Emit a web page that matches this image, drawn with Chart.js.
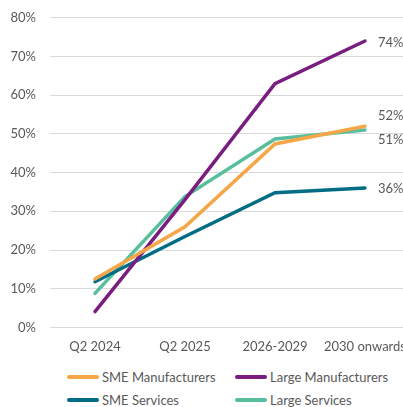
<!DOCTYPE html>
<html>
<head>
<meta charset="utf-8">
<script src="https://cdn.jsdelivr.net/npm/chart.js@4.4.0/dist/chart.umd.min.js"></script>
<style>
  html, body { margin: 0; padding: 0; background: #fff; overflow: hidden; }
  #wrap { position: relative; width: 410px; height: 363px; margin-top: -4px; }
  #legend {
    position: absolute; left: 67px; top: 369px;
    display: grid; grid-template-columns: 168px 168px; row-gap: 7px;
    font-family: Lato, sans-serif; font-size: 13px; color: #595959;
  }
  .item { display: flex; align-items: center; height: 16px; white-space: nowrap; }
  .swatch { width: 32px; height: 4px; border-radius: 2px; margin-right: 3px; }
</style>
</head>
<body>
<div id="wrap"><canvas id="chart"></canvas></div>
<div id="legend"></div>
<script>
// 데이터
const categories = ['Q2 2024', 'Q2 2025', '2026-2029', '2030 onwards'];
const smeManufacturers = [12.5, 26, 47.4, 52];
const largeManufacturers = [4.1, 33, 63, 74];
const smeServices = [11.8, 23.5, 34.8, 36];
const largeServices = [8.8, 33.8, 48.7, 51];
const endLabels = ['52%', '74%', '36%', '51%'];
const yTicks = [0, 10, 20, 30, 40, 50, 60, 70, 80];

const seriesNames = ['SME Manufacturers', 'Large Manufacturers', 'SME Services', 'Large Services'];
const seriesData = [smeManufacturers, largeManufacturers, smeServices, largeServices];
const colors = ['#F5A647', '#7A1D80', '#006D85', '#58BF9E'];
// 끝 라벨 위치 조정 (y 방향)
const labelShift = [-10, 2, 1, 10];

const endLabelPlugin = {
  id: 'endLabels',
  afterDatasetsDraw(chart) {
    const c = chart.ctx;
    c.save();
    c.font = '13px Lato, sans-serif';
    c.fillStyle = '#595959';
    c.textBaseline = 'middle';
    chart.data.datasets.forEach((ds, i) => {
      const meta = chart.getDatasetMeta(i);
      const pt = meta.data[meta.data.length - 1];
      c.fillText(endLabels[i], pt.x + 13, pt.y + labelShift[i]);
    });
    c.restore();
  }
};

const ctx = document.getElementById('chart').getContext('2d');
const chart = new Chart(ctx, {
  type: 'line',
  data: {
    labels: categories,
    datasets: seriesNames.map((name, i) => ({
      label: name,
      data: seriesData[i],
      borderColor: colors[i],
      backgroundColor: colors[i],
      borderWidth: 3.5,
      pointRadius: 0,
      tension: 0,
      borderCapStyle: 'round'
    }))
  },
  options: {
    responsive: true,
    maintainAspectRatio: false,
    animation: false,
    layout: { padding: { top: 6, right: 0, left: 0, bottom: 0 } },
    scales: {
      x: {
        offset: true,
        grid: { display: false },
        border: { display: false },
        ticks: {
          padding: 4,
          color: '#595959',
          font: { family: 'Lato, sans-serif', size: 13 },
          maxRotation: 0
        }
      },
      y: {
        min: 0,
        max: 80,
        afterBuildTicks: (scale) => { scale.ticks = yTicks.map(v => ({ value: v })); },
        afterFit: (scale) => { scale.width = 50; },
        grid: { color: '#D9D9D9', lineWidth: 1, drawTicks: false },
        border: { display: false },
        ticks: {
          padding: 14,
          color: '#595959',
          font: { family: 'Lato, sans-serif', size: 13 },
          callback: (v) => v + '%'
        }
      }
    },
    plugins: {
      legend: { display: false },
      tooltip: { enabled: false }
    }
  },
  plugins: [endLabelPlugin]
});

// 범례
const legend = document.getElementById('legend');
[0, 1, 2, 3].forEach(i => {
  const item = document.createElement('div');
  item.className = 'item';
  item.innerHTML = '<span class="swatch" style="background:' + colors[i] + '"></span>' + seriesNames[i];
  legend.appendChild(item);
});
</script>
</body>
</html>
